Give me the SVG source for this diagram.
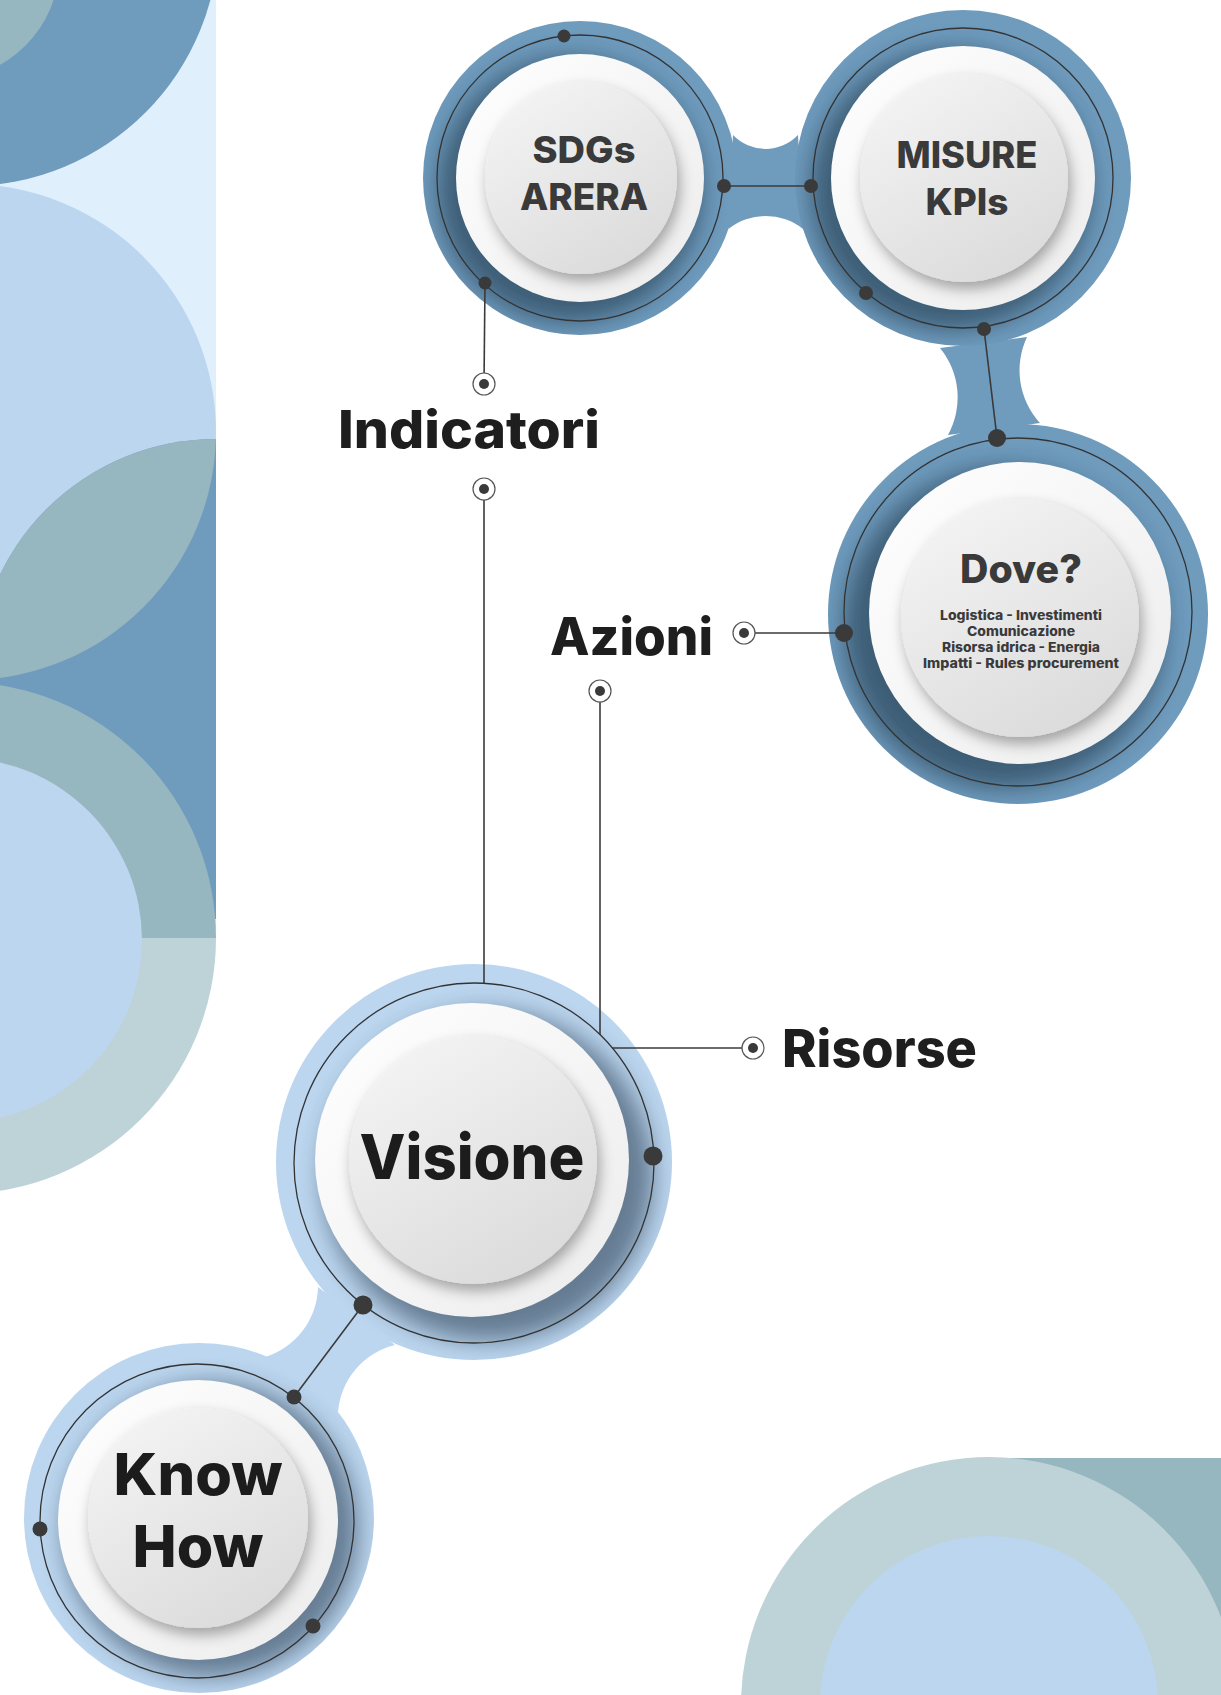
<svg xmlns="http://www.w3.org/2000/svg" width="1221" height="1695" viewBox="0 0 1221 1695">
<style>
.lbl{font-family:Inter,"Noto Sans","Liberation Sans",sans-serif;font-weight:800;fill:#1e1e1e}
.nt{font-family:Inter,"Noto Sans","Liberation Sans",sans-serif;font-weight:800;fill:#3a3a3a;text-anchor:middle}
.big{font-family:Inter,"Noto Sans","Liberation Sans",sans-serif;font-weight:800;fill:#1c1c1c;text-anchor:middle}
.ring{fill:none;stroke:#333;stroke-width:1.3}
.dot{fill:#3a3a3a}
.wire{stroke:#3a3a3a;stroke-width:1.6;fill:none}
.mk{fill:#fff;stroke:#555;stroke-width:1.2}
.blue{fill:#6f9bbd}
.lblue{fill:#bcd6ef}
.white{fill:url(#gWhite)}
.btn{fill:url(#gBtn);filter:url(#btnShadow)}
</style>
<defs>
<linearGradient id="gWhite" x1="0" y1="0" x2="1" y2="1"><stop offset="0" stop-color="#ffffff"/><stop offset="1" stop-color="#ececec"/></linearGradient>
<linearGradient id="gBtn" x1="0.2" y1="0" x2="0.8" y2="1"><stop offset="0" stop-color="#f4f4f4"/><stop offset="1" stop-color="#dadada"/></linearGradient>
<filter id="blurShadow" x="-30%" y="-30%" width="160%" height="160%"><feGaussianBlur stdDeviation="12"/></filter>
<filter id="btnShadow" x="-30%" y="-30%" width="160%" height="160%"><feDropShadow dx="3" dy="7" stdDeviation="7" flood-color="#000" flood-opacity="0.33"/></filter>
<clipPath id="panelClip"><rect x="0" y="0" width="216" height="1250"/></clipPath>
<clipPath id="lbClip"><circle cx="-32" cy="432" r="248"/></clipPath>
<clipPath id="cSDG"><circle cx="580" cy="178" r="157"/></clipPath>
<clipPath id="cMIS"><circle cx="963" cy="178" r="168"/></clipPath>
<clipPath id="cDOV"><circle cx="1018" cy="614" r="190"/></clipPath>
<clipPath id="cVIS"><circle cx="474" cy="1162" r="198"/></clipPath>
<clipPath id="cKH"><circle cx="199" cy="1518" r="175"/></clipPath>
</defs>

<g id="background-left" clip-path="url(#panelClip)">
<rect x="0" y="0" width="216" height="930" fill="#dff0fc"/>
<circle cx="-32" cy="-65" r="251" fill="#6f9bbd"/>
<circle cx="-55" cy="-35" r="114" fill="#96b6c0"/>
<circle cx="-32" cy="432" r="248" fill="#bdd6ef"/>
<circle cx="216" cy="679" r="240" fill="#6f9bbd"/>
<circle cx="216" cy="679" r="240" fill="#96b6c0" clip-path="url(#lbClip)"/>
<path d="M -296,938 A 256 256 0 0 1 216,938 Z" fill="#96b6c0"/>
<path d="M -296,938 A 256 256 0 0 0 216,938 Z" fill="#bed3d8"/>
<circle cx="-40" cy="940" r="182" fill="#bdd6ef"/>
</g>

<g id="background-bottom-right">
<rect x="987" y="1458" width="234" height="237" fill="#96b6c0"/>
<circle cx="989" cy="1705" r="248" fill="#bed3d8"/>
<circle cx="989" cy="1705" r="169" fill="#bcd6ef"/>
</g>

<g id="stems">
<path class="blue" d="M 733,135 A 45 45 0 0 0 798,135 L 803,229 A 60 60 0 0 0 728.5,229 Z"/>
<path class="blue" d="M 940,348 A 78 78 0 0 1 948,435 L 1040,423 A 78 78 0 0 1 1027,337 Z"/>
<path class="lblue" d="M 318,1287 A 75 75 0 0 1 265,1357 L 338,1412 A 75 75 0 0 1 395,1345 Z"/>
</g>

<g id="node-sdgs">
<circle class="blue" cx="580" cy="178" r="157"/>
<g clip-path="url(#cSDG)"><circle cx="570" cy="190" r="132" fill="#1f3447" opacity="0.6" filter="url(#blurShadow)"/></g>
<circle class="ring" cx="580" cy="178" r="143"/>
<circle class="white" cx="580" cy="178" r="124"/>
<circle class="btn" cx="581" cy="178" r="96"/>
<text class="nt" x="584" y="163" font-size="37" textLength="103" lengthAdjust="spacingAndGlyphs">SDGs</text>
<text class="nt" x="584" y="210" font-size="37" textLength="128" lengthAdjust="spacingAndGlyphs">ARERA</text>
<circle class="dot" cx="564" cy="36" r="6.5"/>
<circle class="dot" cx="485" cy="283" r="6.5"/>
<circle class="dot" cx="724" cy="186" r="7"/>
</g>

<g id="node-misure">
<circle class="blue" cx="963" cy="178" r="168"/>
<g clip-path="url(#cMIS)"><circle cx="951" cy="190" r="140" fill="#1f3447" opacity="0.6" filter="url(#blurShadow)"/></g>
<circle class="ring" cx="963" cy="178" r="150"/>
<circle class="white" cx="963" cy="178" r="132"/>
<circle class="btn" cx="964" cy="178" r="104"/>
<text class="nt" x="967" y="168" font-size="37" textLength="141" lengthAdjust="spacingAndGlyphs">MISURE</text>
<text class="nt" x="967" y="215" font-size="37" textLength="83" lengthAdjust="spacingAndGlyphs">KPIs</text>
<circle class="dot" cx="811" cy="186" r="7"/>
<circle class="dot" cx="866" cy="293" r="7"/>
<circle class="dot" cx="984" cy="329" r="7"/>
</g>

<g id="node-dove">
<circle class="blue" cx="1018" cy="614" r="190"/>
<g clip-path="url(#cDOV)"><circle cx="1004" cy="628" r="160" fill="#1f3447" opacity="0.6" filter="url(#blurShadow)"/></g>
<circle class="ring" cx="1018" cy="612" r="174"/>
<circle class="white" cx="1020" cy="613" r="151"/>
<circle class="btn" cx="1020" cy="618" r="119"/>
<text class="nt" x="1021" y="583" font-size="39" textLength="122" lengthAdjust="spacingAndGlyphs">Dove?</text>
<text class="nt" x="1021" y="620" font-size="13" textLength="162" lengthAdjust="spacingAndGlyphs">Logistica - Investimenti</text>
<text class="nt" x="1021" y="636" font-size="13" textLength="108" lengthAdjust="spacingAndGlyphs">Comunicazione</text>
<text class="nt" x="1021" y="652" font-size="13" textLength="158" lengthAdjust="spacingAndGlyphs">Risorsa idrica - Energia</text>
<text class="nt" x="1021" y="668" font-size="13" textLength="196" lengthAdjust="spacingAndGlyphs">Impatti - Rules procurement</text>
<circle class="dot" cx="997" cy="438" r="9"/>
<circle class="dot" cx="844" cy="633" r="9"/>
</g>

<g id="node-visione">
<circle class="lblue" cx="474" cy="1162" r="198"/>
<g clip-path="url(#cVIS)"><circle cx="488" cy="1176" r="165" fill="#2b3f55" opacity="0.6" filter="url(#blurShadow)"/></g>
<circle class="ring" cx="474" cy="1163" r="180"/>
<circle class="white" cx="472" cy="1160" r="157"/>
<circle class="btn" cx="473" cy="1160" r="124"/>
<text class="big" x="472" y="1179" font-size="62" textLength="225" lengthAdjust="spacingAndGlyphs">Visione</text>
<circle class="dot" cx="653" cy="1156" r="9.5"/>
<circle class="dot" cx="363" cy="1305" r="9.5"/>
</g>

<g id="node-knowhow">
<circle class="lblue" cx="199" cy="1518" r="175"/>
<g clip-path="url(#cKH)"><circle cx="211" cy="1530" r="147" fill="#2b3f55" opacity="0.6" filter="url(#blurShadow)"/></g>
<circle class="ring" cx="197" cy="1521" r="157"/>
<circle class="white" cx="198" cy="1520" r="140"/>
<circle class="btn" cx="198" cy="1518" r="110"/>
<text class="big" x="198" y="1495" font-size="58" textLength="169" lengthAdjust="spacingAndGlyphs">Know</text>
<text class="big" x="198" y="1567" font-size="58" textLength="131" lengthAdjust="spacingAndGlyphs">How</text>
<circle class="dot" cx="294" cy="1397" r="7.5"/>
<circle class="dot" cx="40" cy="1529" r="7.5"/>
<circle class="dot" cx="313" cy="1626" r="7.5"/>
</g>

<g id="connectors">
<line class="wire" x1="724" y1="186" x2="811" y2="186"/>
<line class="wire" x1="984" y1="329" x2="997" y2="438"/>
<line class="wire" x1="363" y1="1305" x2="294" y2="1397"/>
<line class="wire" x1="485" y1="283" x2="484" y2="384"/>
<line class="wire" x1="484" y1="489" x2="484" y2="983"/>
<line class="wire" x1="744" y1="633" x2="844" y2="633"/>
<line class="wire" x1="600" y1="691" x2="600" y2="1035"/>
<line class="wire" x1="612" y1="1048" x2="753" y2="1048"/>
<circle class="mk" cx="484" cy="384" r="11"/><circle class="dot" cx="484" cy="384" r="5"/>
<circle class="mk" cx="484" cy="489" r="11"/><circle class="dot" cx="484" cy="489" r="5"/>
<circle class="mk" cx="744" cy="633" r="11"/><circle class="dot" cx="744" cy="633" r="5"/>
<circle class="mk" cx="600" cy="691" r="11"/><circle class="dot" cx="600" cy="691" r="5"/>
<circle class="mk" cx="753" cy="1048" r="11"/><circle class="dot" cx="753" cy="1048" r="5"/>
</g>

<g id="labels">
<text class="lbl" x="338" y="448" font-size="52" textLength="262" lengthAdjust="spacingAndGlyphs">Indicatori</text>
<text class="lbl" x="550" y="655" font-size="52" textLength="163" lengthAdjust="spacingAndGlyphs">Azioni</text>
<text class="lbl" x="782" y="1067" font-size="52" textLength="195" lengthAdjust="spacingAndGlyphs">Risorse</text>
</g>
</svg>
